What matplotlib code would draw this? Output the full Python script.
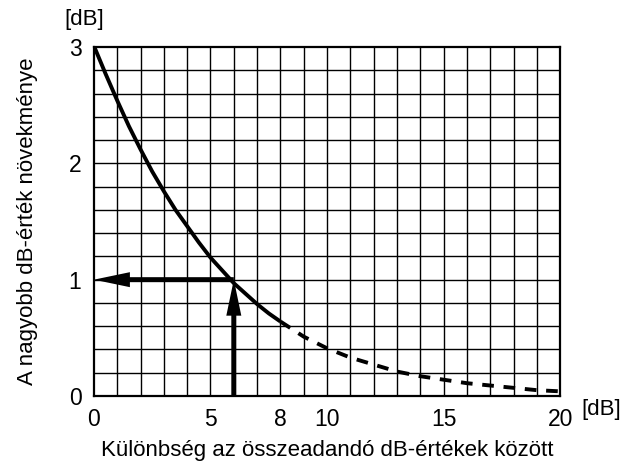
import numpy as np
import matplotlib.pyplot as plt

# dB-különbség és a nagyobb érték növekménye (leolvasott értékek)
diff_db = [0, 0.5, 1, 1.5, 2, 2.5, 3, 3.5, 4, 4.5, 5, 5.5, 6, 6.5, 7, 7.5, 8,
           9, 10, 11, 12, 13, 14, 15, 16, 17, 18, 19, 20]
gain_db = [3.01, 2.77, 2.54, 2.32, 2.12, 1.93, 1.76, 1.60, 1.46, 1.32, 1.19,
           1.08, 0.97, 0.88, 0.79, 0.71, 0.64,
           0.51, 0.41, 0.33, 0.27, 0.21, 0.17, 0.14, 0.11, 0.09, 0.07, 0.05, 0.04]
solid_end = 8
xticks = [0, 5, 8, 10, 15, 20]
yticks = [0, 1, 2, 3]
example_x, example_y = 6, 1

plt.rcParams['font.family'] = ['Liberation Sans', 'DejaVu Sans']

fig = plt.figure(figsize=(6.26, 4.61), dpi=100)
ax = fig.add_axes([0.150, 0.141, 0.745, 0.757])
ax.set_xlim(0, 20)
ax.set_ylim(0, 3)

# rács: 1 dB vízszintesen, 0.2 dB függőlegesen
for gx in np.arange(1, 20):
    ax.axvline(gx, color='black', lw=1.0, zorder=1)
for gy in np.arange(0.2, 3.0, 0.2):
    ax.axhline(gy, color='black', lw=1.0, zorder=1)

x = np.array(diff_db)
y = np.array(gain_db)
m = x <= solid_end
ax.plot(x[m], y[m], color='black', lw=2.8, zorder=3, solid_capstyle='butt')
m2 = x >= solid_end
ax.plot(x[m2], y[m2], color='black', lw=2.8, ls=(0, (3, 2.5)), zorder=3)

# nyilak (méretek pixelből átszámolva adategységre)
fig.canvas.draw()
bb = ax.get_window_extent()
px_x = 20 / bb.width   # adategység / pixel vízszintesen
px_y = 3 / bb.height   # adategység / pixel függőlegesen
shaft, head_w, head_l = 5, 15, 36
ax.arrow(example_x, 0, 0, example_y, width=shaft * px_x, head_width=head_w * px_x,
         head_length=head_l * px_y, length_includes_head=True,
         fc='black', lw=0, zorder=4)
ax.arrow(example_x, example_y, -example_x, 0, width=shaft * px_y,
         head_width=head_w * px_y, head_length=head_l * px_x,
         length_includes_head=True, fc='black', lw=0, zorder=4)

ax.set_xticks(xticks)
ax.set_yticks(yticks)
ax.tick_params(length=0, labelsize=16.5, pad=9)
for s in ax.spines.values():
    s.set_linewidth(1.6)
    s.set_zorder(5)

ax.annotate('[dB]', xy=(0, 3), xytext=(-7, 20), textcoords='offset points',
            fontsize=16, ha='center', va='center')
ax.annotate('[dB]', xy=(20, 0), xytext=(15, -10), textcoords='offset points',
            fontsize=16, ha='left', va='center')
ax.set_xlabel('Különbség az összeadandó dB-értékek között', fontsize=16, labelpad=6)
ax.set_ylabel('A nagyobb dB-érték növekménye', fontsize=16, labelpad=22)

fig.savefig('out.png', dpi=100)
